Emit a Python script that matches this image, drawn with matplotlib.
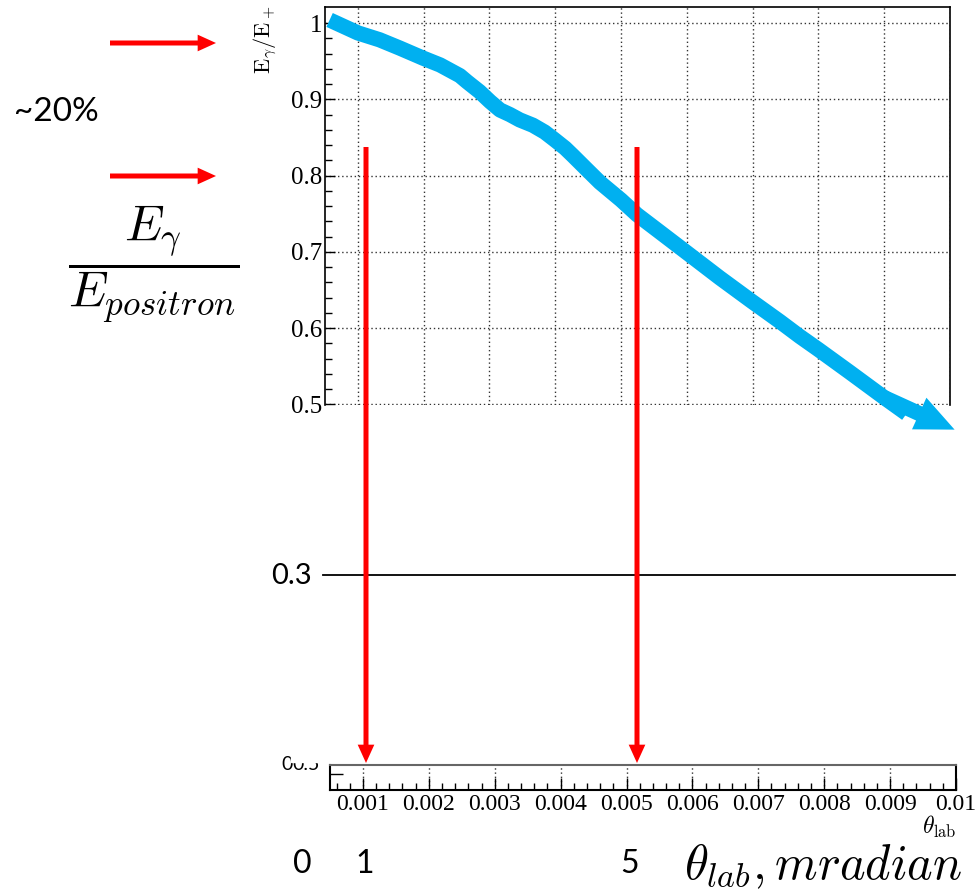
import matplotlib.pyplot as plt
from matplotlib.patches import Rectangle

plt.rcParams['mathtext.fontset'] = 'cm'

# curve: theta_lab (rad) vs E_gamma / E_+
theta = [0.00057, 0.0010, 0.00133, 0.00164, 0.00199, 0.00225, 0.0024,
         0.00255, 0.00266, 0.00285, 0.00301, 0.00316, 0.00331, 0.00346,
         0.00366, 0.00384, 0.00399, 0.00415, 0.00427, 0.00448, 0.00468,
         0.0050, 0.00524, 0.00559, 0.0060, 0.0065, 0.00699, 0.00741,
         0.00772, 0.0080, 0.00848, 0.0090, 0.00934]
ratio = [1.004, 0.987, 0.978, 0.967, 0.954, 0.945, 0.938,
         0.931, 0.923, 0.910, 0.897, 0.886, 0.880, 0.873,
         0.866, 0.857, 0.847, 0.836, 0.826, 0.808, 0.791,
         0.768, 0.749, 0.726, 0.699, 0.666, 0.635, 0.609,
         0.589, 0.572, 0.542, 0.509, 0.488]
tip = (0.01007, 0.467)

y_ticks = [0.5, 0.6, 0.7, 0.8, 0.9, 1.0]
y_labels = ['0.5', '0.6', '0.7', '0.8', '0.9', '1']
x_ticks = [0.001, 0.002, 0.003, 0.004, 0.005, 0.006, 0.007, 0.008, 0.009, 0.01]
x_labels = ['0.001', '0.002', '0.003', '0.004', '0.005', '0.006', '0.007',
            '0.008', '0.009', '0.01']
mrad_labels = ['0', '1', '5']
mrad_pos = [302, 365, 630]

# slide annotations (pixel positions on the slide)
down_arrow_x = [366, 637]
side_arrow_y = [43, 176]

W, H = 978, 891
fig = plt.figure(figsize=(W / 100, H / 100), dpi=100)
BLUE = '#00B0F0'
serif = 'Liberation Serif'
sans = 'Lato'


def box(l, t, r, b):
    return [l / W, 1 - b / H, (r - l) / W, (b - t) / H]


# upper ROOT panel
ax = fig.add_axes(box(325, 7, 950, 405))
ax.set_xlim(0.0005, 0.01)
ax.set_ylim(0.4993, 1.021)
ax.spines['bottom'].set_visible(False)
ax.set_xticks(x_ticks)
ax.tick_params(axis='x', bottom=False, labelbottom=False)
ax.set_yticks(y_ticks)
ax.set_yticklabels(y_labels, fontfamily=serif, fontsize=18)
ax.set_yticks([0.5 + 0.02 * i for i in range(1, 26) if i % 5 != 0], minor=True)
ax.tick_params(axis='y', which='major', direction='in', length=7, width=1, pad=2)
ax.tick_params(axis='y', which='minor', direction='in', length=5, width=1)
ax.grid(True, which='major', ls=(0, (1, 2)), color='#333333', lw=1)
for s in ax.spines.values():
    s.set_linewidth(1.2)
ax.plot(theta, ratio, color=BLUE, lw=11, solid_joinstyle='round',
        solid_capstyle='butt', zorder=5, clip_on=False)
ax.annotate('', xy=tip, xytext=(theta[-2], ratio[-2]),
            arrowprops=dict(arrowstyle='simple,head_length=2.8,head_width=2.5,tail_width=1.1',
                            color=BLUE, lw=0, mutation_scale=10,
                            shrinkA=0, shrinkB=0),
            annotation_clip=False, zorder=5)

# lower axis strip
ax2 = fig.add_axes(box(330, 765, 956, 790))
ax2.set_xlim(0.0005, 0.01)
ax2.set_ylim(0, 1)
ax2.set_xticks(x_ticks)
ax2.set_xticklabels(x_labels, fontfamily=serif, fontsize=17)
ax2.set_xticks([0.0006 + 0.0002 * i for i in range(48)], minor=True)
ax2.tick_params(axis='x', which='major', direction='in', length=9, width=1, pad=3)
ax2.tick_params(axis='x', which='minor', direction='in', length=5, width=1)
ax2.set_yticks([0.64])
ax2.set_yticklabels([])
ax2.tick_params(axis='y', direction='in', length=9, width=1)
ax2.grid(True, axis='x', which='major', ls=(0, (1, 2)), color='#333333', lw=1)
for s in ['left', 'right', 'bottom']:
    ax2.spines[s].set_linewidth(1.5)
ax2.spines['top'].set_color('#666666')
ax2.spines['top'].set_linewidth(1.5)
ax2.patch.set_alpha(0)

# overlay in slide pixels
ov = fig.add_axes([0, 0, 1, 1], zorder=10)
ov.set_xlim(0, W)
ov.set_ylim(H, 0)
ov.axis('off')
ov.patch.set_alpha(0)

red_head = 'simple,head_length=1.1,head_width=1.0,tail_width=0.3'
for x in down_arrow_x:
    ov.annotate('', xy=(x, 763), xytext=(x, 147),
                arrowprops=dict(arrowstyle=red_head, color='red', lw=0,
                                mutation_scale=12, shrinkA=0, shrinkB=0))
for y in side_arrow_y:
    ov.annotate('', xy=(216, y), xytext=(110, y),
                arrowprops=dict(arrowstyle=red_head, color='red', lw=0,
                                mutation_scale=12, shrinkA=0, shrinkB=0))

ov.plot([323, 955], [575, 575], color='black', lw=1.3)
ov.text(312, 576, '0.3', fontfamily=sans, fontsize=21, ha='right', va='center')
ov.text(14, 112, '~20%', fontfamily=sans, fontsize=24, ha='left', va='center')
ov.text(154, 264, r'$\dfrac{E_\gamma}{E_{positron}}$', fontsize=36,
        ha='center', va='center')
for lab, x in zip(mrad_labels, mrad_pos):
    ov.text(x, 864, lab, fontfamily=sans, fontsize=23, ha='center', va='center')
ov.text(684, 879, r'$\theta_{lab}, mradian$', fontsize=35, ha='left', va='baseline')
ov.text(939, 827, r'$\theta_{\rm lab}$', fontsize=17, ha='center', va='center')
ov.text(265, 40, r'$\mathrm{E}_\gamma/\mathrm{E}_+$', fontsize=16,
        rotation=90, ha='center', va='center')

# partly hidden label at the strip top
ov.text(281, 765, '0', fontfamily=sans, fontsize=14, ha='left', va='center')
ov.text(292, 765, '0.5', fontfamily=sans, fontsize=14, ha='left', va='center')
ov.add_patch(Rectangle((291, 746), 34, 16, color='white', zorder=3))

fig.savefig('out.png', dpi=100)
